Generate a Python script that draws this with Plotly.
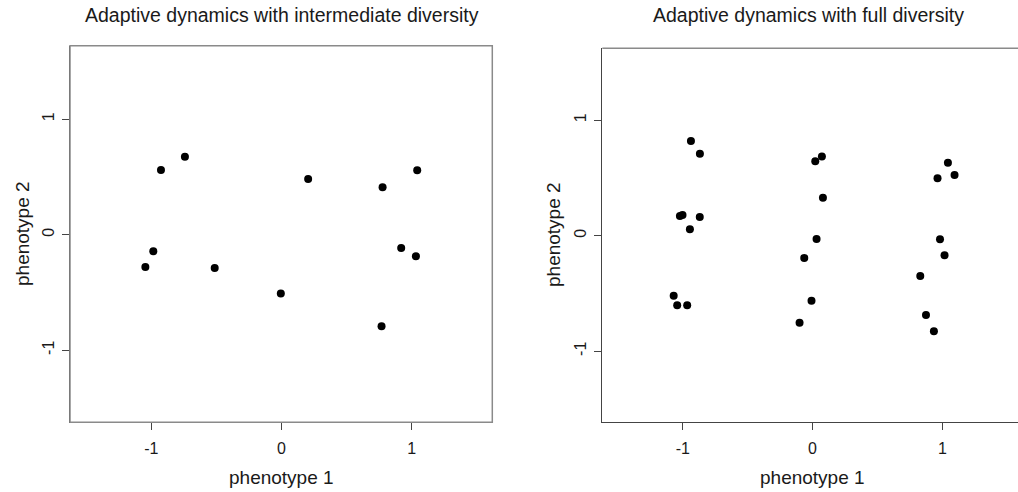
import plotly.graph_objects as go

# ---- data ----
inter_p1 = [-0.926, -0.742, 0.205, 0.777, 1.043, -0.985, -1.046, -0.513, -0.005, 0.920, 1.033, 0.769]
inter_p2 = [0.560, 0.675, 0.482, 0.410, 0.557, -0.144, -0.280, -0.288, -0.508, -0.115, -0.187, -0.793]

full_p1 = [-0.937, -0.868, -1.022, -1.002, -0.869, -0.945, -1.070, -1.043, -0.966,
           0.021, 0.072, 0.080, 0.031, -0.064, -0.008, -0.100,
           1.043, 0.963, 1.094, 0.982, 1.017, 0.830, 0.874, 0.935]
full_p2 = [0.820, 0.710, 0.170, 0.180, 0.162, 0.055, -0.519, -0.603, -0.603,
           0.644, 0.687, 0.329, -0.029, -0.193, -0.563, -0.753,
           0.632, 0.497, 0.526, -0.031, -0.170, -0.349, -0.687, -0.828]

tick_vals = [-1, 0, 1]
tick_text = ["-1", "0", "1"]
titles = ["Adaptive dynamics with intermediate diversity", "Adaptive dynamics with full diversity"]
xlabel = "phenotype 1"
ylabel = "phenotype 2"

W, H = 1018, 492
FONT = "Liberation Sans, Arial, Helvetica, sans-serif"
TXT = "#1a1a1a"

fig = go.Figure()
fig.add_trace(go.Scatter(x=inter_p1, y=inter_p2, mode="markers", xaxis="x", yaxis="y",
                         marker=dict(color="black", size=8), showlegend=False))
fig.add_trace(go.Scatter(x=full_p1, y=full_p2, mode="markers", xaxis="x2", yaxis="y2",
                         marker=dict(color="black", size=8), showlegend=False))

def px_x(p):
    return p / W

def px_y(p):
    return (H - p) / H

common_ax = dict(
    tickvals=tick_vals, ticktext=tick_text, ticks="outside", ticklen=7, tickwidth=1,
    tickcolor="#444", showgrid=False, zeroline=False, showline=True, linecolor="#444",
    linewidth=1, tickfont=dict(family=FONT, size=16, color=TXT), fixedrange=True,
)

fig.update_layout(
    width=W, height=H, margin=dict(l=0, r=0, t=0, b=0),
    paper_bgcolor="white", plot_bgcolor="white",
    xaxis=dict(domain=[px_x(70), px_x(492.3)], range=[-1.625, 1.62], anchor="y",
               ticklabelstandoff=4, **common_ax),
    yaxis=dict(domain=[px_y(422.3), px_y(45.7)], range=[-1.624, 1.636], anchor="x",
               tickangle=-90, ticklabelstandoff=2, **common_ax),
    xaxis2=dict(domain=[px_x(602.3), 1.0], range=[-1.62, 1.583], anchor="y2",
                ticklabelstandoff=4, **common_ax),
    yaxis2=dict(domain=[px_y(422.3), px_y(48.3)], range=[-1.616, 1.623], anchor="x2",
                tickangle=-90, ticklabelstandoff=2, **common_ax),
)

# frames (R box)
frame = dict(color="#8a8a8a", width=1.5)
fig.add_shape(type="rect", xref="x domain", yref="y domain", x0=0, x1=1, y0=0, y1=1, line=frame)
fig.add_shape(type="line", xref="x2 domain", yref="y2 domain", x0=0, x1=1, y0=1, y1=1, line=frame)

# titles
fig.add_annotation(text=titles[0], xref="paper", yref="paper", x=px_x(281.5), y=px_y(15),
                   showarrow=False, xanchor="center", yanchor="middle",
                   font=dict(family=FONT, size=19.5, color=TXT))
fig.add_annotation(text=titles[1], xref="paper", yref="paper", x=px_x(808), y=px_y(15),
                   showarrow=False, xanchor="center", yanchor="middle",
                   font=dict(family=FONT, size=19.5, color=TXT))

# axis titles
for cx in [281.5, 812.5]:
    fig.add_annotation(text=xlabel, xref="paper", yref="paper", x=px_x(cx), y=px_y(477),
                       showarrow=False, xanchor="center", yanchor="middle",
                       font=dict(family=FONT, size=19, color=TXT))
for lx, cy in [(22, 234), (553, 235)]:
    fig.add_annotation(text=ylabel, xref="paper", yref="paper", x=px_x(lx), y=px_y(cy),
                       showarrow=False, xanchor="center", yanchor="middle", textangle=-90,
                       font=dict(family=FONT, size=19, color=TXT))

fig.write_html("out.html", config={"displayModeBar": False})
